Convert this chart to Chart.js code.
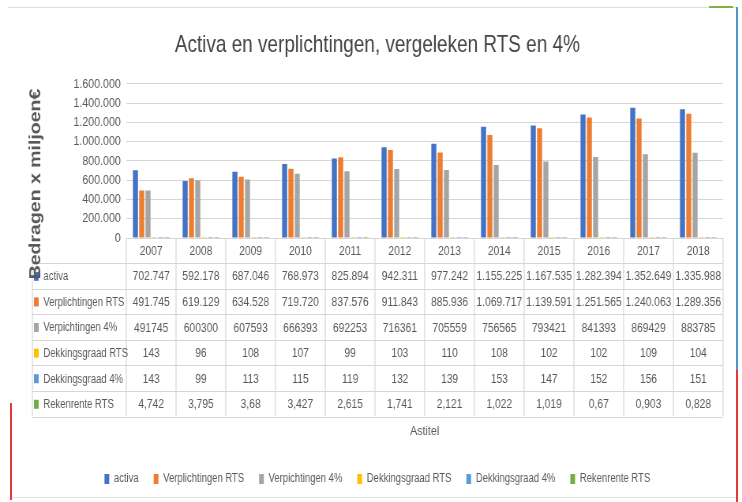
<!DOCTYPE html>
<html lang="nl">
<head>
<meta charset="utf-8">
<title>Activa en verplichtingen, vergeleken RTS en 4%</title>
<script src="https://cdn.jsdelivr.net/npm/chart.js@4.4.1/dist/chart.umd.min.js"></script>
<style>
  html, body { margin: 0; padding: 0; background: #fff; }
  #wrap { position: relative; width: 742px; height: 502px; overflow: hidden; }
  /* the original screenshot is squeezed sideways, so the canvas is drawn wider and narrowed */
  #wrap canvas { position: absolute; left: 0; top: 0; transform: scaleX(0.7894); transform-origin: 0 0; }
  .edge { position: absolute; }
</style>
</head>
<body>
<div id="wrap">
  <canvas id="chart" width="940" height="502"></canvas>
  <!-- screenshot edges -->
  <div class="edge" style="left:8px; top:7px; width:728px; height:1px; background:#dedede;"></div>
  <div class="edge" style="left:709px; top:6px; width:24px; height:2px; background:#7cb342;"></div>
  <div class="edge" style="left:736px; top:7px; width:2px; height:363px; background:#4f93cf;"></div>
  <div class="edge" style="left:736px; top:370px; width:2px; height:132px; background:#e53935;"></div>
  <div class="edge" style="left:10px; top:403px; width:2px; height:97px; background:#e53935;"></div>
  <div class="edge" style="left:12px; top:497px; width:724px; height:1px; background:#e4e4e4;"></div>
</div>

<script>
  // data
  const years = ['2007', '2008', '2009', '2010', '2011', '2012', '2013', '2014', '2015', '2016', '2017', '2018'];
  const activa = [702747, 592178, 687046, 768973, 825894, 942311, 977242, 1155225, 1167535, 1282394, 1352649, 1335988];
  const verplichtingenRTS = [491745, 619129, 634528, 719720, 837576, 911843, 885936, 1069717, 1139591, 1251565, 1240063, 1289356];
  const verplichtingen4 = [491745, 600300, 607593, 666393, 692253, 716361, 705559, 756565, 793421, 841393, 869429, 883785];
  const dekkingsgraadRTS = [143, 96, 108, 107, 99, 103, 110, 108, 102, 102, 109, 104];
  const dekkingsgraad4 = [143, 99, 113, 115, 119, 132, 139, 153, 147, 152, 156, 151];
  const rekenrenteRTS = [4.742, 3.795, 3.68, 3.427, 2.615, 1.741, 2.121, 1.022, 1.019, 0.67, 0.903, 0.828];
  const yMax = 1600000;
  const yStep = 200000;

  const FONT = '"Liberation Sans", Arial, sans-serif';
  const TEXT = '#595959';
  const LINE = '#d6d6d6';

  // nl formats as shown in the table
  const fmtDots = v => String(v).replace(/\B(?=(\d{3})+(?!\d))/g, '.');
  const fmtPlain = v => String(v);
  const fmtComma = v => String(v).replace('.', ',');

  const series = [
    { label: 'activa', data: activa, color: '#4472c4', fmt: fmtDots },
    { label: 'Verplichtingen RTS', data: verplichtingenRTS, color: '#ed7d31', fmt: fmtDots },
    { label: 'Verpichtingen 4%', data: verplichtingen4, color: '#a5a5a5', fmt: fmtPlain },
    { label: 'Dekkingsgraad RTS', data: dekkingsgraadRTS, color: '#ffc000', fmt: fmtPlain },
    { label: 'Dekkingsgraad 4%', data: dekkingsgraad4, color: '#5b9bd5', fmt: fmtPlain },
    { label: 'Rekenrente RTS', data: rekenrenteRTS, color: '#70ad47', fmt: fmtComma }
  ];

  // Excel style data table under the plot + rotated y title
  const dataTable = {
    id: 'dataTable',
    afterDraw(chart) {
      const { ctx, chartArea } = chart;
      const x = chart.scales.x;
      const colW = (chartArea.right - chartArea.left) / years.length;
      const top = chartArea.bottom;
      const headH = 25;
      const rowH = 25.6;
      const labelLeft = 41;
      const bottom = top + headH + rowH * series.length;

      ctx.save();
      ctx.strokeStyle = LINE;
      ctx.lineWidth = 1.2;
      ctx.beginPath();
      ctx.moveTo(chartArea.left, Math.round(top) + 0.5);
      ctx.lineTo(chartArea.right, Math.round(top) + 0.5);
      for (let r = 0; r <= series.length; r++) {
        const y = Math.round(top + headH + r * rowH) + 0.5;
        ctx.moveTo(labelLeft, y);
        ctx.lineTo(chartArea.right, y);
      }
      for (let c = 0; c <= years.length; c++) {
        const xx = chartArea.left + c * colW;
        ctx.moveTo(xx, top);
        ctx.lineTo(xx, bottom);
      }
      ctx.moveTo(labelLeft, top + headH);
      ctx.lineTo(labelLeft, bottom);
      ctx.stroke();

      ctx.fillStyle = TEXT;
      ctx.font = '13px ' + FONT;
      ctx.textAlign = 'center';
      ctx.textBaseline = 'middle';
      years.forEach((yr, i) => {
        ctx.fillText(yr, x.getPixelForValue(i), top + headH / 2 + 1);
      });

      series.forEach((s, r) => {
        const yMid = top + headH + r * rowH + rowH / 2 + 1;
        ctx.fillStyle = s.color;
        ctx.fillRect(labelLeft + 2, yMid - 5, 6, 9);
        ctx.fillStyle = TEXT;
        ctx.textAlign = 'left';
        ctx.font = '12px ' + FONT;
        ctx.fillText(s.label, labelLeft + 14, yMid);
        ctx.textAlign = 'center';
        ctx.font = '13px ' + FONT;
        s.data.forEach((v, i) => {
          ctx.fillText(s.fmt(v), x.getPixelForValue(i), yMid);
        });
      });

      // y axis title, sits lower than the plot centre in the original
      ctx.translate(45.5, 184);
      ctx.rotate(-Math.PI / 2);
      ctx.fillStyle = TEXT;
      ctx.font = 'bold 19.5px ' + FONT;
      ctx.textAlign = 'center';
      ctx.textBaseline = 'middle';
      ctx.fillText('Bedragen x miljoen€', 0, 0);
      ctx.restore();
    }
  };

  new Chart(document.getElementById('chart'), {
    type: 'bar',
    data: {
      labels: years,
      datasets: series.map(s => ({
        label: s.label,
        data: s.data,
        backgroundColor: s.color,
        borderWidth: 0,
        inflateAmount: 0,
        barPercentage: 0.8,
        categoryPercentage: 0.76
      }))
    },
    options: {
      responsive: false,
      animation: false,
      layout: { padding: { top: 0, left: 40, right: 24, bottom: 7 } },
      plugins: {
        title: {
          display: true,
          text: 'Activa en verplichtingen, vergeleken RTS en 4%',
          color: '#444444',
          font: { family: FONT, size: 24, weight: 'normal' },
          padding: { top: 31, bottom: 24 }
        },
        legend: {
          position: 'bottom',
          labels: {
            boxWidth: 6,
            boxHeight: 10,
            padding: 19,
            color: TEXT,
            font: { family: FONT, size: 12 }
          }
        },
        tooltip: { enabled: false }
      },
      scales: {
        x: {
          grid: { display: false },
          border: { display: false },
          ticks: { display: false },
          title: {
            display: true,
            text: 'Astitel',
            color: TEXT,
            font: { family: FONT, size: 13.5 },
            padding: { top: 0, bottom: 15 }
          },
          afterFit: scale => { scale.height = 216; }
        },
        y: {
          min: 0,
          max: yMax,
          ticks: {
            stepSize: yStep,
            callback: v => fmtDots(v),
            color: TEXT,
            font: { family: FONT, size: 13.5 },
            padding: 7
          },
          grid: { color: LINE, drawTicks: false },
          border: { display: false },
          afterFit: scale => { scale.width = 120; }
        }
      }
    },
    plugins: [dataTable]
  });
</script>
</body>
</html>
